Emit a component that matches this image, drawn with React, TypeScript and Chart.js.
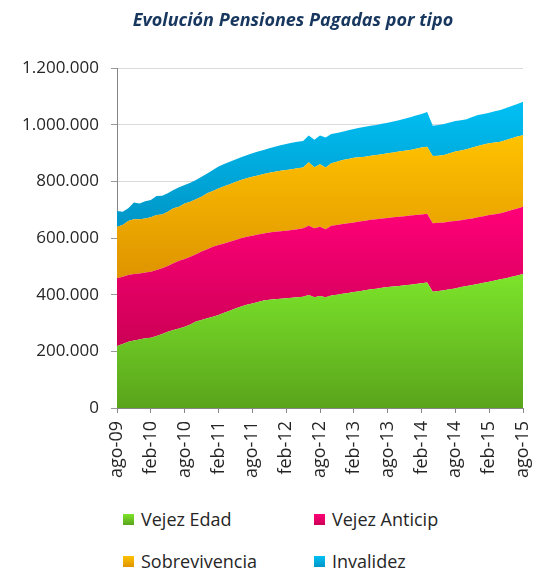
import React, { useEffect, useRef } from "react";
import { Chart, registerables } from "chart.js";

Chart.register(...registerables);

const TITLE = "Evolución Pensiones Pagadas por tipo";

const MONTH_NAMES = ["ene", "feb", "mar", "abr", "may", "jun", "jul", "ago", "sep", "oct", "nov", "dic"];
// monthly categories from ago-09 to ago-15
const LABELS: string[] = [];
for (let i = 0; i < 73; i++) {
  const mIdx = (7 + i) % 12;
  const yr = 9 + Math.floor((7 + i) / 12);
  LABELS.push(`${MONTH_NAMES[mIdx]}-${String(yr).padStart(2, "0")}`);
}

const SERIES_NAMES = ["Vejez Edad", "Vejez Anticip", "Sobrevivencia", "Invalidez"];

// values in thousands of pensions
const VEJEZ_EDAD = [
  219, 226, 234, 238, 242, 246, 248, 254, 261, 269,
  275, 281, 287, 295, 305, 311, 317, 322, 328, 336,
  343, 351, 358, 364, 369, 374, 379, 382, 384, 386,
  387, 389, 391, 393, 399, 391, 395, 391, 397, 400,
  403, 406, 409, 412, 416, 419, 421, 424, 427, 429,
  431, 433, 435, 438, 440, 443, 410, 413, 416, 419,
  422, 427, 431, 434, 438, 442, 446, 450, 454, 458,
  463, 468, 473,
];
const VEJEZ_ANTICIP = [
  239, 237, 235, 235, 233, 232, 233, 233, 232, 232,
  236, 239, 239, 239, 238, 241, 243, 247, 247, 245,
  244, 242, 241, 240, 239, 238, 237, 237, 238, 238,
  239, 239, 240, 241, 244, 243, 245, 240, 246, 246,
  246, 246, 246, 246, 245, 245, 245, 245, 244, 244,
  244, 244, 244, 243, 243, 243, 242, 241, 239, 239,
  238, 236, 235, 235, 235, 235, 235, 234, 233, 235,
  236, 236, 237,
];
const SOBREVIVENCIA = [
  182, 183, 191, 193, 191, 191, 192, 194, 190, 192,
  194, 190, 196, 194, 194, 194, 198, 197, 200, 202,
  203, 205, 206, 207, 208, 209, 210, 211, 212, 213,
  214, 215, 215, 215, 224, 216, 220, 218, 221, 223,
  226, 227, 228, 227, 226, 226, 227, 227, 228, 229,
  230, 231, 232, 234, 236, 236, 237, 236, 238, 241,
  245, 246, 247, 250, 252, 253, 253, 253, 253, 253,
  253, 254, 253,
];
const INVALIDEZ = [
  55, 47, 45, 59, 56, 61, 61, 67, 66, 65,
  64, 69, 65, 67, 68, 70, 70, 74, 77, 78,
  79, 79, 80, 81, 83, 84, 85, 87, 88, 90,
  92, 93, 94, 93, 95, 97, 102, 106, 103, 102,
  100, 101, 102, 104, 106, 106, 106, 107, 108, 109,
  111, 113, 115, 117, 119, 123, 107, 109, 109, 109,
  108, 107, 106, 108, 109, 108, 108, 110, 112, 113,
  114, 115, 118,
];

const Y_TICKS = [0, 200000, 400000, 600000, 800000, 1000000, 1200000];

const SERIES = [VEJEZ_EDAD, VEJEZ_ANTICIP, SOBREVIVENCIA, INVALIDEZ];
const TOP_COLORS = ["#7ce42a", "#ff0078", "#ffc200", "#00c0f4"];
const BOTTOM_COLORS = ["#5aa41c", "#cc0055", "#de9400", "#0095c6"];

const FONT = '"Open Sans", "DejaVu Sans", sans-serif';

const fmt = (v: number) => String(v).replace(/\B(?=(\d{3})+(?!\d))/g, ".");

function makeFill(idx: number) {
  return (ctx: any) => {
    const chart = ctx.chart;
    const area = chart.chartArea;
    const y = chart.scales && chart.scales.y;
    if (!area || !y) return BOTTOM_COLORS[idx];
    let maxTop = 0;
    let minBase = Infinity;
    for (let i = 0; i < LABELS.length; i++) {
      let base = 0;
      for (let k = 0; k < idx; k++) base += SERIES[k][i];
      const t = base + SERIES[idx][i];
      if (t > maxTop) maxTop = t;
      if (base < minBase) minBase = base;
    }
    const g = chart.ctx.createLinearGradient(0, y.getPixelForValue(maxTop * 1000), 0, y.getPixelForValue(minBase * 1000));
    g.addColorStop(0, TOP_COLORS[idx]);
    g.addColorStop(1, BOTTOM_COLORS[idx]);
    return g;
  };
}

const titlePlugin = {
  id: "customTitle",
  afterDraw(chart: any) {
    const c = chart.ctx;
    c.save();
    c.font = `italic bold 18px ${FONT}`;
    c.fillStyle = "#17375E";
    c.textAlign = "center";
    c.textBaseline = "middle";
    c.fillText(TITLE, 293, 21);
    c.restore();
  },
};

const LEGEND_POS = [
  { x: 123, y: 519 },
  { x: 314, y: 519 },
  { x: 123, y: 561 },
  { x: 314, y: 561 },
];

export default function App() {
  const ref = useRef<HTMLCanvasElement | null>(null);

  useEffect(() => {
    if (!ref.current) return;
    const chart = new Chart(ref.current, {
      type: "line",
      data: {
        labels: LABELS,
        datasets: SERIES.map((s, i) => ({
          label: SERIES_NAMES[i],
          data: s.map((v) => v * 1000),
          fill: i === 0 ? "origin" : "-1",
          backgroundColor: makeFill(i),
          borderWidth: 0,
          pointRadius: 0,
          pointHoverRadius: 0,
          tension: 0,
        })),
      },
      options: {
        animation: false,
        responsive: false,
        maintainAspectRatio: false,
        layout: { padding: { top: 68, right: 11, left: 0, bottom: 0 } },
        plugins: {
          legend: { display: false },
          title: { display: false },
          tooltip: { enabled: false },
        },
        scales: {
          x: {
            type: "category",
            stacked: true,
            offset: false,
            afterFit: (s: any) => {
              s.height = 82;
              s.paddingRight = 0;
              s.paddingLeft = 0;
            },
            grid: {
              drawOnChartArea: false,
              drawTicks: true,
              tickLength: 5,
              color: "#868686",
            },
            border: { display: true, color: "#868686" },
            ticks: {
              autoSkip: false,
              maxRotation: 90,
              minRotation: 90,
              padding: 8,
              color: "#262626",
              font: { family: FONT, size: 18 },
              callback: function (this: any, value: any, index: number) {
                return index % 6 === 0 ? LABELS[index] : null;
              },
            },
          },
          y: {
            stacked: true,
            min: 0,
            max: 1200000,
            afterFit: (s: any) => {
              s.width = 117;
            },
            afterBuildTicks: (s: any) => {
              s.ticks = Y_TICKS.map((v) => ({ value: v }));
            },
            grid: {
              color: "#d9d9d9",
              tickColor: "#9a9a9a",
              tickLength: 6,
            },
            border: { display: true, color: "#868686" },
            ticks: {
              padding: 12,
              color: "#262626",
              font: { family: FONT, size: 17 },
              callback: (v: any) => fmt(Number(v)),
            },
          },
        },
      },
      plugins: [titlePlugin],
    });
    return () => chart.destroy();
  }, []);

  return (
    <div style={{ position: "fixed", left: 0, top: 0, width: 534, height: 569, background: "#fff", overflow: "hidden" }}>
      <canvas ref={ref} width={534} height={490} style={{ position: "absolute", left: 0, top: 0, width: 534, height: 490 }} />
      {SERIES_NAMES.map((n, i) => (
        <div
          key={n}
          style={{
            position: "absolute",
            left: LEGEND_POS[i].x,
            top: LEGEND_POS[i].y - 13,
            height: 26,
            display: "flex",
            alignItems: "center",
            fontFamily: FONT,
            fontSize: 18,
            color: "#262626",
            whiteSpace: "nowrap",
          }}
        >
          <span
            style={{
              display: "inline-block",
              width: 11,
              height: 11,
              marginRight: 7,
              background: `linear-gradient(${TOP_COLORS[i]}, ${BOTTOM_COLORS[i]})`,
            }}
          />
          {n}
        </div>
      ))}
    </div>
  );
}
